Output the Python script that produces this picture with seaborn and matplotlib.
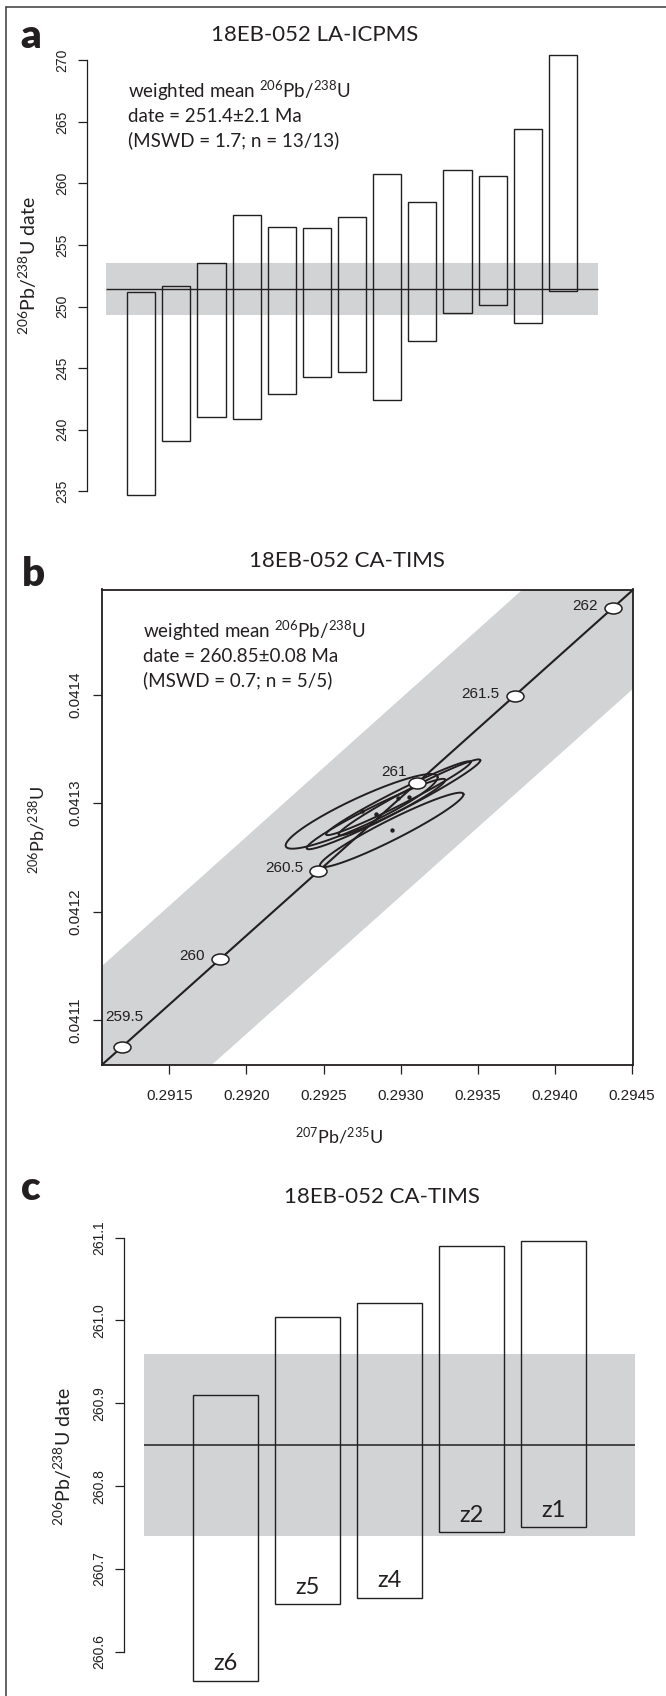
import numpy as np
import seaborn as sns
import matplotlib.pyplot as plt
from matplotlib.path import Path
from matplotlib.markers import MarkerStyle
from matplotlib.lines import Line2D
from matplotlib.ticker import FormatStrFormatter

# ---- panel a: LA-ICPMS single-grain 206Pb/238U dates (bar = date +/- 2s, Ma)
la_lo = [234.7, 239.1, 241.0, 240.9, 242.9, 244.3, 244.7, 242.4, 247.2, 249.5, 250.1, 248.7, 251.3]
la_hi = [251.2, 251.7, 253.5, 257.4, 256.5, 256.4, 257.3, 260.8, 258.5, 261.1, 260.6, 264.4, 270.4]
la_mean = 251.4
la_err = 2.1

# ---- panel b: concordia age marks (Ma) and their ratios
conc_age = ["259.5", "260", "260.5", "261", "261.5", "262"]
conc_x = [0.291195, 0.291831, 0.292467, 0.293104, 0.293741, 0.294378]
conc_y = [0.041076, 0.041157, 0.041238, 0.041319, 0.041399, 0.041480]

# CA-TIMS error ellipses: centre, half-extent in x / y, correlation
ell_x = [0.292747, 0.292840, 0.292942, 0.292985, 0.293057]
ell_y = [0.0412925, 0.0412900, 0.0412754, 0.0413046, 0.0413053]
ell_sx = [0.000493, 0.000450, 0.000466, 0.000469, 0.000460]
ell_sy = [0.0000344, 0.0000324, 0.0000343, 0.0000340, 0.0000350]
ell_rho = [0.912, 0.967, 0.954, 0.977, 0.975]

# grey envelope around concordia
band_x = [0.2905, 0.2950]
band_lo = [0.0408976, 0.0414677]
band_hi = [0.0410786, 0.0416504]

# ---- panel c: CA-TIMS single-grain dates
tims_names = ["z6", "z5", "z4", "z2", "z1"]
tims_lo = [260.565, 260.657, 260.665, 260.744, 260.750]
tims_hi = [260.910, 261.004, 261.021, 261.090, 261.096]
tims_mean = 260.85
tims_band = [260.74, 260.96]

INK = "#231f20"
GREY = "#d1d3d4"
TEXT_FONT = ["Lato", "DejaVu Sans"]
TICK_FONT = ["Liberation Sans", "DejaVu Sans"]

sns.set_style("ticks")
plt.rcParams["font.family"] = TEXT_FONT
plt.rcParams["mathtext.default"] = "regular"
plt.rcParams["text.color"] = INK

W, H = 666, 1696
fig = plt.figure(figsize=(W / 100, H / 100), dpi=100)


def box(l, t, r, b):
    return [l / W, 1 - b / H, (r - l) / W, (b - t) / H]


def ftext(x, y, s, **kw):
    fig.text(x / W, 1 - y / H, s, **kw)


def style_ticks(ax, size, pad_y, pad_x=None):
    ax.tick_params(axis="both", direction="out", length=6.5, width=0.9,
                   color=INK, labelsize=size, labelcolor=INK)
    ax.tick_params(axis="y", pad=pad_y, labelrotation=90)
    if pad_x is not None:
        ax.tick_params(axis="x", pad=pad_x)
    for lab in ax.get_yticklabels() + ax.get_xticklabels():
        lab.set_family(TICK_FONT)
    for lab in ax.get_yticklabels():
        lab.set_va("center")


# outer frame of the figure
fig.add_artist(Line2D([5.7 / W, 5.7 / W], [0, 1 - 6.7 / H], color="#3a3a3a", lw=1.1))
fig.add_artist(Line2D([5.7 / W, 1], [1 - 6.7 / H, 1 - 6.7 / H], color="#3a3a3a", lw=1.1))

# ================= panel a =================
ax_a = fig.add_axes(box(86.7, 50, 620, 500))
pos_a = np.arange(1, len(la_lo) + 1)
ax_a.fill_between([0, len(la_lo) + 1], la_mean - la_err, la_mean + la_err,
                  color=GREY, lw=0, zorder=1)
ax_a.bar(pos_a, np.array(la_hi) - np.array(la_lo), bottom=la_lo, width=0.8,
         fill=False, edgecolor=INK, lw=1.0, zorder=2)
ax_a.hlines(la_mean, 0, len(la_lo) + 1, color=INK, lw=1.0, zorder=3)
ax_a.set_xlim(-0.554, 14.627)
ax_a.set_ylim(234.28, 270.84)
ax_a.set_xticks([])
ax_a.set_yticks(range(235, 271, 5))
for s in ["top", "right", "bottom"]:
    ax_a.spines[s].set_visible(False)
ax_a.spines["left"].set_bounds(235, 270)
ax_a.spines["left"].set_color(INK)
ax_a.spines["left"].set_linewidth(0.9)
style_ticks(ax_a, 10, 6)
ax_a.patch.set_alpha(0)

ftext(20, 48, "a", fontsize=29, fontweight="heavy", ha="left", va="baseline")
ftext(314.5, 41.3, "18EB-052 LA-ICPMS", fontsize=16, ha="center", va="baseline")
ftext(28, 266, r"$^{206}$Pb/$^{238}$U date", fontsize=14, rotation=90,
      ha="center", va="center")
ftext(128, 97.5, r"weighted mean $^{206}$Pb/$^{238}$U", fontsize=13.5, va="baseline")
ftext(128, 122, "date = 251.4\u00b12.1 Ma", fontsize=13.5, va="baseline")
ftext(128, 146.5, "(MSWD = 1.7; n = 13/13)", fontsize=13.5, va="baseline")

# ================= panel b =================
ax_b = fig.add_axes(box(101.7, 589.5, 632.7, 1065))
ax_b.fill_between(band_x, band_lo, band_hi, color=GREY, lw=0, zorder=1)
ax_b.axline((conc_x[0], conc_y[0]), (conc_x[-1], conc_y[-1]), color=INK, lw=1.5, zorder=2)

t = np.linspace(0, 2 * np.pi, 300)
for cx, cy, sx, sy, r in zip(ell_x, ell_y, ell_sx, ell_sy, ell_rho):
    ex = cx + sx * np.cos(t)
    ey = cy + sy * (r * np.cos(t) + np.sqrt(1 - r ** 2) * np.sin(t))
    ax_b.plot(ex, ey, color=INK, lw=1.4, zorder=3)
sns.scatterplot(x=ell_x, y=ell_y, s=10, color=INK, linewidth=0, ax=ax_b, zorder=4)

circle = Path.unit_circle()
oval = MarkerStyle(Path(circle.vertices * np.array([1.55, 1.0]), circle.codes))
sns.scatterplot(x=conc_x, y=conc_y, marker=oval, s=150, color="white",
                edgecolor=INK, linewidth=1.1, ax=ax_b, zorder=5)

label_offsets = {"259.5": (1.5, 21, "center"), "261": (-7, 7.5, "right")}
for age, x, y in zip(conc_age, conc_x, conc_y):
    dx, dy, ha = label_offsets.get(age, (-11, 1.5, "right"))
    ax_b.annotate(age, (x, y), xytext=(dx, dy), textcoords="offset points",
                  ha=ha, va="center", fontsize=11, family=TICK_FONT, color=INK, zorder=6)

ax_b.set_xlim(0.291061, 0.294505)
ax_b.set_ylim(0.041059, 0.0414967)
ax_b.set_xticks([0.2915, 0.2920, 0.2925, 0.2930, 0.2935, 0.2940, 0.2945])
ax_b.set_yticks([0.0411, 0.0412, 0.0413, 0.0414])
ax_b.xaxis.set_major_formatter(FormatStrFormatter("%.4f"))
ax_b.yaxis.set_major_formatter(FormatStrFormatter("%.4f"))
for s in ax_b.spines.values():
    s.set_color(INK)
    s.set_linewidth(1.3)
style_ticks(ax_b, 11, 7.5, pad_x=10.5)

ftext(22, 586, "b", fontsize=29, fontweight="heavy", ha="left", va="baseline")
ftext(346.5, 567, "18EB-052 CA-TIMS", fontsize=16, ha="center", va="baseline")
ftext(37.5, 830, r"$^{206}$Pb/$^{238}$U", fontsize=13, rotation=90, ha="center", va="center")
ftext(339, 1136, r"$^{207}$Pb/$^{235}$U", fontsize=13, ha="center", va="center")
ftext(142.7, 637.5, r"weighted mean $^{206}$Pb/$^{238}$U", fontsize=13.5, va="baseline")
ftext(142.7, 662.5, "date = 260.85\u00b10.08 Ma", fontsize=13.5, va="baseline")
ftext(142.7, 686, "(MSWD = 0.7; n = 5/5)", fontsize=13.5, va="baseline")

# ================= panel c =================
ax_c = fig.add_axes(box(124, 1225, 650, 1690))
pos_c = np.arange(1, len(tims_lo) + 1)
ax_c.fill_between([0, len(tims_lo) + 1], tims_band[0], tims_band[1], color=GREY, lw=0, zorder=1)
ax_c.bar(pos_c, np.array(tims_hi) - np.array(tims_lo), bottom=tims_lo, width=0.8,
         fill=False, edgecolor=INK, lw=1.0, zorder=2)
ax_c.hlines(tims_mean, 0, len(tims_lo) + 1, color=INK, lw=1.1, zorder=3)
for p, lo, name in zip(pos_c, tims_lo, tims_names):
    ax_c.annotate(name, (p, lo), xytext=(0, 12.5), textcoords="offset points",
                  ha="center", va="center", fontsize=17, color=INK, zorder=4)
ax_c.set_xlim(-0.238, 6.177)
ax_c.set_ylim(260.5537, 261.1153)
ax_c.set_xticks([])
ax_c.set_yticks([260.6, 260.7, 260.8, 260.9, 261.0, 261.1])
ax_c.yaxis.set_major_formatter(FormatStrFormatter("%.1f"))
for s in ["top", "right", "bottom"]:
    ax_c.spines[s].set_visible(False)
ax_c.spines["left"].set_bounds(260.6, 261.1)
ax_c.spines["left"].set_color(INK)
ax_c.spines["left"].set_linewidth(0.9)
style_ticks(ax_c, 10, 6.5)
ax_c.patch.set_alpha(0)

ftext(20.7, 1200, "c", fontsize=29, fontweight="heavy", ha="left", va="baseline")
ftext(381.7, 1203.3, "18EB-052 CA-TIMS", fontsize=16, ha="center", va="baseline")
ftext(62.8, 1457, r"$^{206}$Pb/$^{238}$U date", fontsize=14, rotation=90,
      ha="center", va="center")

fig.savefig("out.png", dpi=100)
